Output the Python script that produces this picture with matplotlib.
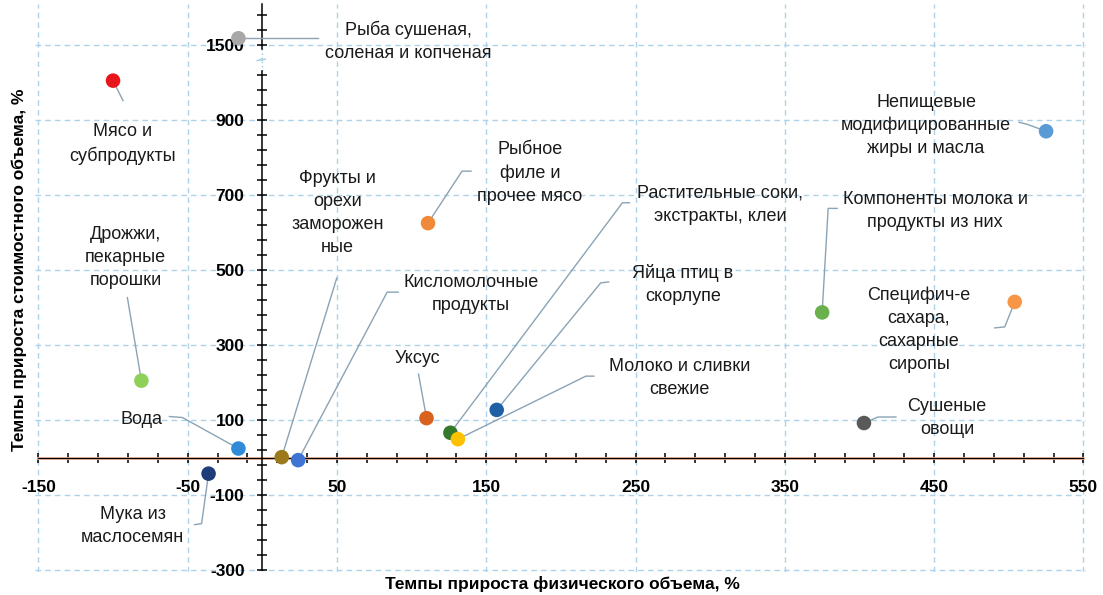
import numpy as np
import matplotlib.pyplot as plt
from matplotlib.ticker import FixedLocator, NullFormatter, FixedFormatter

plt.rcParams['font.family'] = ['Liberation Sans', 'DejaVu Sans']
plt.rcParams['axes.unicode_minus'] = False

# данные: прирост физического объема (x) и стоимостного объема (y), %
names = [
    "Рыба сушеная,\nсоленая и копченая",
    "Мясо и\nсубпродукты",
    "Дрожжи,\nпекарные\nпорошки",
    "Вода",
    "Мука из\nмаслосемян",
    "Фрукты и\nорехи\nзаморожен\nные",
    "Кисломолочные\nпродукты",
    "Уксус",
    "Рыбное\nфиле и\nпрочее мясо",
    "Растительные соки,\nэкстракты, клеи",
    "Яйца птиц в\nскорлупе",
    "Молоко и сливки\nсвежие",
    "Непищевые\nмодифицированные\nжиры и масла",
    "Компоненты молока и\nпродукты из них",
    "Специфич-е\nсахара,\nсахарные\nсиропы",
    "Сушеные\nовощи",
]
phys = [-16, -100, -81, -16, -36, 13, 24, 110, 111, 126, 157, 131, 525, 375, 504, 403]
value = [1518, 1005, 205, 24, -43, 1, -7, 105, 625, 66, 127, 49, 870, 387, 415, 92]
colors = ['#a8a8a8', '#e8161c', '#8fd05a', '#2f8bd8', '#1f3d78', '#9c7a1c',
          '#3f74d2', '#d9621f', '#f08a3a', '#357a2c', '#1f5fa6', '#ffc000',
          '#5b9bd5', '#6ab04c', '#f79646', '#595959']

# положение подписей и выносок (смещение от точки в пикселях: вправо, вверх)
text_off = [(170, -3), (10, -63), (-16, 123), (-97, 29), (-76, -52), (56, 244),
            (173, 166), (-9, 60), (102, 50), (270, 228), (186, 125), (222, 61),
            (-120, 6), (113, 101), (-96, -28), (83, 5)]
lead_off = [[(80, 0)], [(10, -20)], [(-14, 83)], [(-56, 31), (-69, 32)],
            [(-7, -50), (-14, -51)], [(55, 179)], [(89, 168), (100, 168)],
            [(-8, 44)], [(34, 52), (43, 52)], [(172, 230), (179, 230)],
            [(104, 127), (112, 128)], [(128, 63), (136, 63)],
            [(-19, 7), (-27, 9)], [(6, 104), (15, 104)], [(-10, -25), (-20, -26)],
            [(14, 6), (32, 6)]]

xticks_lab = [-150, -50, 50, 150, 250, 350, 450, 550]
yticks_lab = [-300, -100, 100, 300, 500, 700, 900, 1500]


# разрыв оси y между 1040 и 1480
def fwd(y):
    return np.interp(y, [-1e4, 1040, 1480, 1e4], [-1e4, 1040, 1080, 9600])


def inv(d):
    return np.interp(d, [-1e4, 1040, 1080, 9600], [-1e4, 1040, 1480, 1e4])


fig = plt.figure(figsize=(11.03, 5.95), dpi=100)
ax = fig.add_axes([0.03209, 0.03882, 0.95286, 0.95487])
ax.set_yscale('function', functions=(fwd, inv))
ax.set_xlim(-152, 552)
ax.set_ylim(-305, 1610)

ax.spines['top'].set_visible(False)
ax.spines['right'].set_visible(False)
ax.spines['left'].set_position(('data', 0))
ax.spines['bottom'].set_position(('data', 0))
ax.spines['left'].set_bounds(-300, 1030)
ax.spines['bottom'].set_bounds(-150, 550)
ax.spines['left'].set_linewidth(1.1)
ax.spines['bottom'].set_linewidth(0.9)
ax.spines['bottom'].set_zorder(2.6)
ax.axhline(0, xmin=(2 / 704), xmax=(702 / 704), color='#f6b8a0', lw=2, zorder=2.5)

ax.plot([0, 0], [1490, 1610], color='black', lw=1.1, clip_on=False, zorder=2.6)
ax.plot([0, 0], [1030, 1490], color='#9ec9e2', lw=1, ls=(0, (1, 2)), zorder=2.4)
for dx in (-3, 1):
    x0 = dx / 1.493
    ax.plot([x0 - 1.5, x0 + 1.5], [1240, 1290], color='#9ec9e2', lw=0.9, zorder=2.4)

ax.xaxis.set_major_locator(FixedLocator(xticks_lab))
ax.xaxis.set_minor_locator(FixedLocator(np.arange(-150, 551, 20)))
ax.yaxis.set_major_locator(FixedLocator(yticks_lab))
ax.yaxis.set_minor_locator(FixedLocator(list(np.arange(-300, 1021, 40)) + [1540, 1580]))
ax.yaxis.set_major_formatter(FixedFormatter([str(v) for v in yticks_lab]))
ax.xaxis.set_minor_formatter(NullFormatter())
ax.yaxis.set_minor_formatter(NullFormatter())
ax.tick_params(which='both', direction='inout', length=7.5, width=1.1, color='black')
ax.tick_params(axis='y', which='major', labelsize=12.5, pad=9)
ax.tick_params(axis='x', which='major', labelsize=12.5, pad=12.5)
for lab in ax.get_xticklabels() + ax.get_yticklabels():
    lab.set_fontweight('bold')

ax.grid(True, which='major', color='#add2ea', lw=1, ls=(0, (4, 3)), zorder=0)

ax.scatter(phys, value, s=110, c=colors, zorder=4, edgecolors='none')

fig.canvas.draw()
for i in range(len(names)):
    px, py = ax.transData.transform((phys[i], value[i]))
    pts = [(px, py)] + [(px + dx, py + dy) for dx, dy in lead_off[i]]
    dpts = ax.transData.inverted().transform(pts)
    ax.plot(dpts[:, 0], dpts[:, 1], color='#8aa3b5', lw=1, zorder=3)
    ax.annotate(names[i], (phys[i], value[i]), xytext=text_off[i],
                textcoords='offset pixels', ha='center', va='center',
                fontsize=13, linespacing=1.45, color='#1a1a1a', zorder=5)

fig.text(562 / 1103, 1 - 584 / 595, "Темпы прироста физического объема, %",
         ha='center', va='center', fontsize=12.5, fontweight='bold')
fig.text(19 / 1103, 1 - 270 / 595, "Темпы прироста стоимостного объема, %",
         ha='center', va='center', fontsize=12.5, fontweight='bold', rotation=90)

fig.savefig('out.png', dpi=100)
